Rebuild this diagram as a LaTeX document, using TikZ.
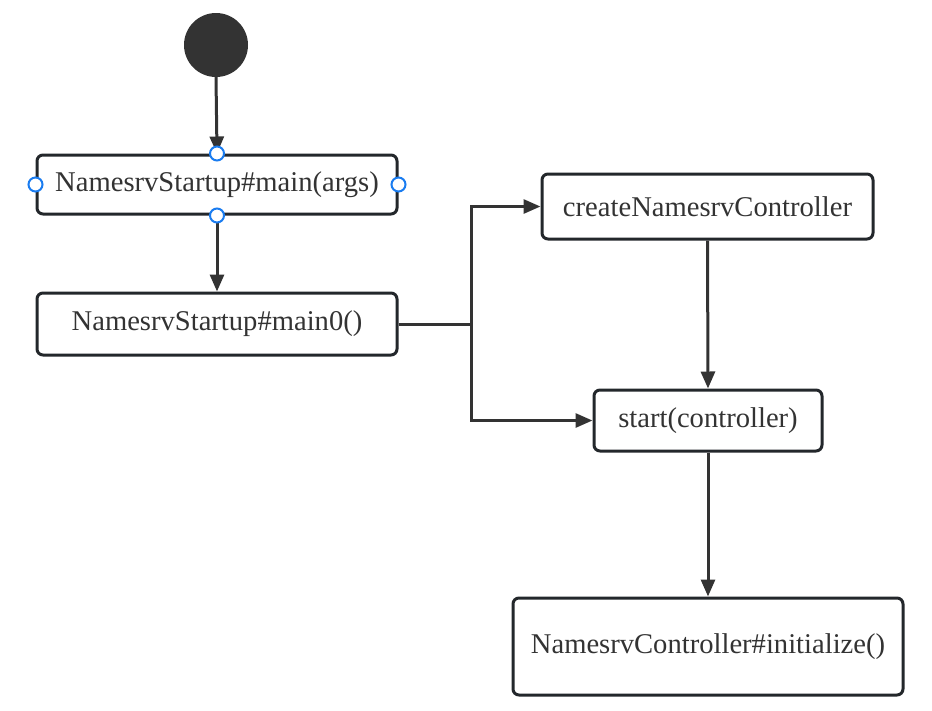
\documentclass[tikz,border=0pt]{standalone}
\usepackage{fontspec}
\setmainfont{Liberation Serif}
\usepackage{xcolor}
\usetikzlibrary{arrows.meta}
\definecolor{ink}{HTML}{333333}
\definecolor{edge}{HTML}{23272B}
\definecolor{handle}{HTML}{1A7CF0}
\tikzset{
  box/.style={draw=edge,line width=3pt,rounded corners=6pt,fill=white,text=ink,
    font=\fontsize{28.6}{34}\selectfont,inner sep=0pt},
  flow/.style={draw=ink,line width=3pt,-{Triangle[length=17pt,width=14pt]}},
  grip/.style={circle,draw=handle,fill=white,line width=2pt,minimum size=14pt,inner sep=0pt}
}
\begin{document}
\begin{tikzpicture}[x=1pt,y=-1pt]
    \useasboundingbox (0,0) rectangle (932,710);
    \node [circle,fill=ink,minimum size=64pt,inner sep=0pt] (start) at (216,45) {};
    \node [box,minimum width=360pt,minimum height=59pt] (mainargs) at (217,184.5) {NamesrvStartup\#main(args)};
    \node [box,minimum width=360pt,minimum height=62pt] (mainzero) at (217,324) {NamesrvStartup\#main0()};
    \node [box,minimum width=331pt,minimum height=65pt] (create) at (707.5,206.5) {createNamesrvController};
    \node [box,minimum width=228pt,minimum height=61pt] (startctl) at (708,420.5) {start(controller)};
    \node [box,minimum width=390pt,minimum height=97pt] (init) at (708,646.5) {NamesrvController\#initialize()};
    \coordinate (fork) at (471,324);
     \draw [flow] (start.south) -- (mainargs.north);
     \draw [flow] (mainargs.south) -- (mainzero.north);
     \draw [ink,line width=3pt] (mainzero.east) -- (fork);
     \draw [flow] (fork) |- (create.west);
     \draw [flow] (fork) |- (startctl.west);
     \draw [flow] (create.south) -- (startctl.north);
     \draw [flow] (startctl.south) -- (init.north);
    \node [grip] (gn) at (mainargs.north) {};
    \node [grip] (gs) at (mainargs.south) {};
    \node [grip] (gw) at (mainargs.west) {};
    \node [grip] (ge) at (mainargs.east) {};
\end{tikzpicture}
\end{document}
